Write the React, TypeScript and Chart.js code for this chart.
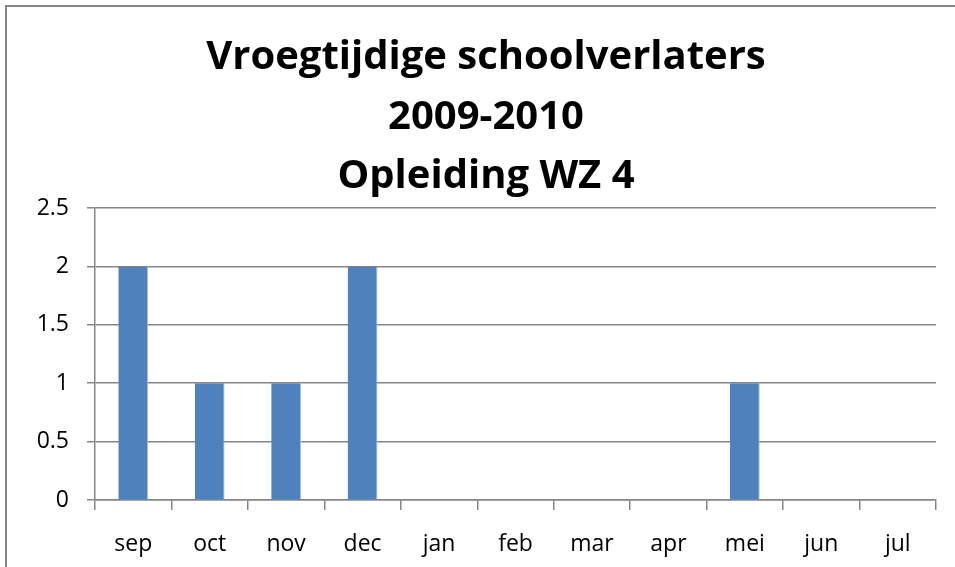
import React, { useEffect, useRef } from "react";
import { Chart, registerables } from "chart.js";

Chart.register(...registerables);

const titleLines = ["Vroegtijdige schoolverlaters", "2009-2010", "Opleiding WZ 4"];
const months = ["sep", "oct", "nov", "dec", "jan", "feb", "mar", "apr", "mei", "jun", "jul"];
const leavers = [2, 1, 1, 2, 0, 0, 0, 0, 1, 0, 0];
const yMax = 2.5;
const yStep = 0.5;

const FONT = "'Open Sans', Lato, sans-serif";
const GRID = "#868686";

const titlePlugin = {
  id: "customTitle",
  afterDraw(chart: any) {
    const ctx = chart.ctx;
    ctx.save();
    ctx.font = `bold 40px ${FONT}`;
    ctx.fillStyle = "#000";
    ctx.textAlign = "center";
    ctx.textBaseline = "alphabetic";
    titleLines.forEach((line, i) => {
      ctx.fillText(line, 486, 69 + i * 59.5);
    });
    ctx.restore();
  },
};

export default function App() {
  const ref = useRef<HTMLCanvasElement>(null);
  useEffect(() => {
    if (!ref.current) return;
    const chart = new Chart(ref.current, {
      type: "bar",
      data: {
        labels: months,
        datasets: [
          {
            data: leavers,
            backgroundColor: "#4F81BD",
            borderColor: "#A9C0DF",
            borderWidth: { right: 1, left: 0, top: 0, bottom: 0 } as any,
            barPercentage: 0.39,
            categoryPercentage: 1,
          },
        ],
      },
      options: {
        animation: false,
        responsive: false,
        maintainAspectRatio: false,
        layout: { padding: { top: 208, left: 0, right: 19, bottom: 0 } },
        plugins: { legend: { display: false }, title: { display: false }, tooltip: { enabled: false } },
        scales: {
          x: {
            offset: true,
            grid: {
              offset: true,
              drawOnChartArea: false,
              drawTicks: true,
              tickLength: 10,
              color: GRID,
              lineWidth: 1.5,
            },
            border: { display: true, color: GRID, width: 1.5 },
            ticks: { color: "#000", font: { family: FONT, size: 23 }, padding: 21, maxRotation: 0 },
            afterFit: (s: any) => {
              s.height = 67;
            },
          },
          y: {
            min: 0,
            max: yMax,
            ticks: {
              stepSize: yStep,
              color: "#000",
              font: { family: FONT, size: 23 },
              padding: 18,
              callback: (v: any) => String(v),
            },
            grid: { color: GRID, lineWidth: 1.5, tickLength: 8, drawTicks: true },
            border: { display: true, color: GRID, width: 1.5 },
            afterFit: (s: any) => {
              s.width = 95;
            },
          },
        },
      },
      plugins: [titlePlugin],
    });
    return () => chart.destroy();
  }, []);
  return (
    <div style={{ position: "fixed", left: 0, top: 0, width: 955, height: 567, background: "#fff" }}>
      <div
        style={{
          position: "absolute",
          left: 5,
          top: 5,
          right: 0,
          bottom: 0,
          borderLeft: `2px solid ${GRID}`,
          borderTop: `2px solid ${GRID}`,
        }}
      />
      <canvas ref={ref} width={955} height={567} style={{ position: "absolute", left: 0, top: 0 }} />
    </div>
  );
}
